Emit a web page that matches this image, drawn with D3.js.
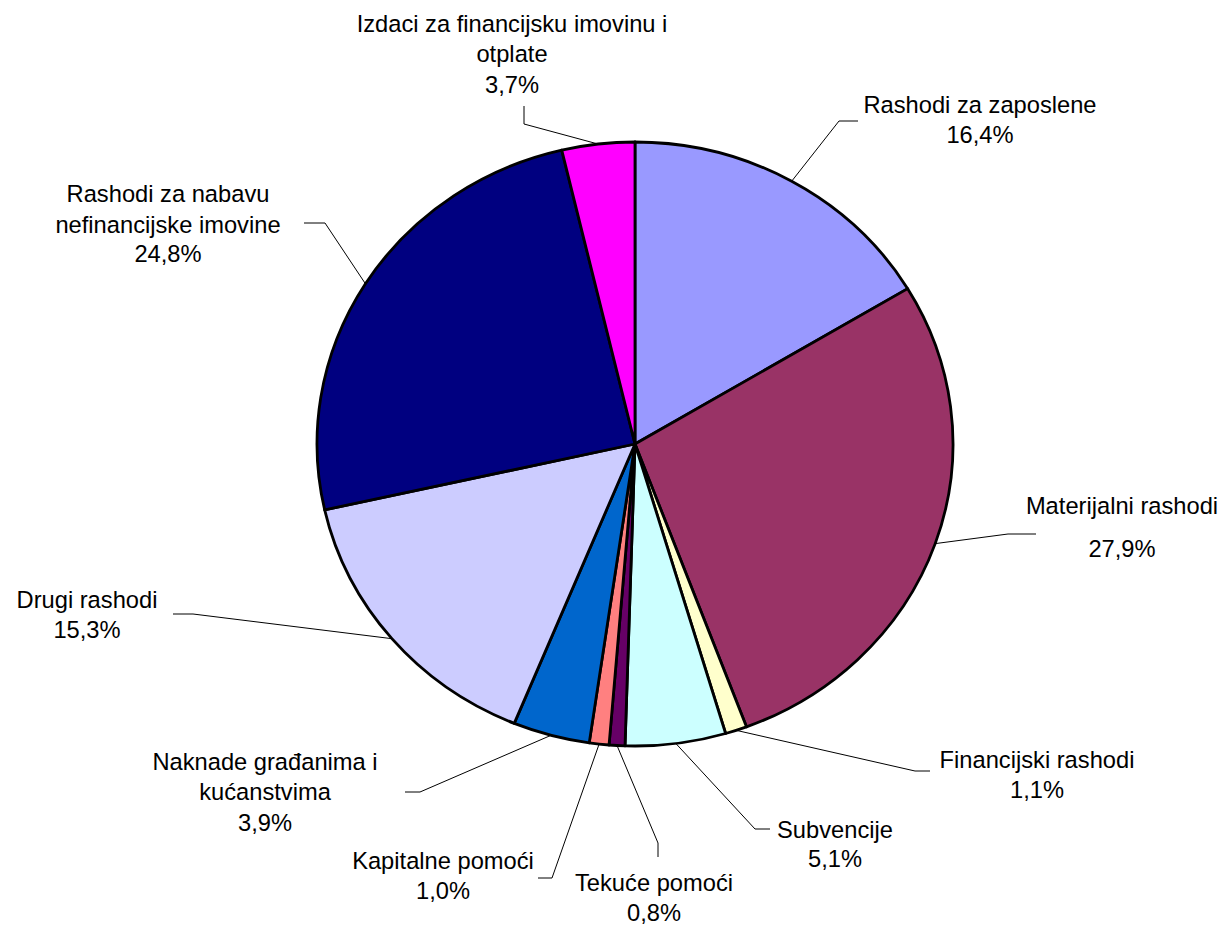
<!DOCTYPE html>
<html>
<head>
<meta charset="utf-8">
<script src="https://cdnjs.cloudflare.com/ajax/libs/d3/7.8.5/d3.min.js"></script>
<style>
  body { margin: 0; background: #fff; }
  svg text { font-family: "Liberation Sans", Arial, sans-serif; fill: #000; }
</style>
</head>
<body>
<div id="pie-chart"></div>
<script>
'use strict';

// data, clockwise from 12 o'clock
var categories = [
  "Rashodi za zaposlene",
  "Materijalni rashodi",
  "Financijski rashodi",
  "Subvencije",
  "Tekuće pomoći",
  "Kapitalne pomoći",
  "Naknade građanima i kućanstvima",
  "Drugi rashodi",
  "Rashodi za nabavu nefinancijske imovine",
  "Izdaci za financijsku imovinu i otplate"
];
var shares = [16.4, 27.9, 1.1, 5.1, 0.8, 1.0, 3.9, 15.3, 24.8, 3.7];
var colors = ["#9999FF", "#993366", "#FFFFCC", "#CCFFFF", "#660066",
              "#FF8080", "#0066CC", "#CCCCFF", "#000080", "#FF00FF"];

// how the label text wraps (same order as categories)
var labelLines = [
  ["Rashodi za zaposlene"],
  ["Materijalni rashodi"],
  ["Financijski rashodi"],
  ["Subvencije"],
  ["Tekuće pomoći"],
  ["Kapitalne pomoći"],
  ["Naknade građanima i", "kućanstvima"],
  ["Drugi rashodi"],
  ["Rashodi za nabavu", "nefinancijske imovine"],
  ["Izdaci za financijsku imovinu i", "otplate"]
];

// label layout: text centre x, baselines, leader elbow points (outer first)
var labelLayout = [
  {x: 980,  y: [113, 143],      elbow: [[858, 121], [839, 121]]},
  {x: 1122, y: [514, 557],      elbow: [[1036, 534], [1008, 534]]},
  {x: 1037, y: [768, 798],      elbow: [[930, 771], [915, 771]]},
  {x: 835,  y: [838, 867],      elbow: [[770, 829], [755, 829]]},
  {x: 654,  y: [891, 921],      elbow: [[658, 857], [658, 843]]},
  {x: 443,  y: [869, 899],      elbow: [[538, 878], [552, 878]]},
  {x: 265,  y: [770, 800, 831], elbow: [[405, 792], [420, 792]]},
  {x: 87,   y: [608, 638],      elbow: [[173, 614], [193, 614]]},
  {x: 168,  y: [202, 233, 262], elbow: [[304, 223], [325, 223]]},
  {x: 512,  y: [32, 62, 93],    elbow: [[524, 106], [524, 124]]}
];

var width = 1227,
    height = 926;
var cx = 635, cy = 444, rx = 318, ry = 302;

var fmt = d3.formatLocale({decimal: ",", thousands: ".", grouping: [3], currency: ["", ""]}).format(".1f");

var data = categories.map(function (c, i) {
  return {name: c, value: shares[i], color: colors[i], lines: labelLines[i], pos: labelLayout[i]};
});

var svg = d3.select("#pie-chart")
  .append("svg")
  .attr("width", width)
  .attr("height", height)
  .attr("viewBox", "0 0 " + width + " " + height);

var pie = d3.pie()
  .sort(null)
  .value(function (d) { return d.value; });

var arcs = pie(data);

var arc = d3.arc()
  .innerRadius(0)
  .outerRadius(rx);

// the original pie is slightly squashed vertically
var g = svg.append("g")
  .attr("transform", "translate(" + cx + "," + cy + ") scale(1," + (ry / rx) + ")");

g.selectAll("path.slice")
  .data(arcs)
  .enter()
  .append("path")
  .attr("class", "slice")
  .attr("d", arc)
  .attr("fill", function (d) { return d.data.color; })
  .attr("stroke", "#000")
  .attr("stroke-width", 2.8)
  .attr("stroke-linejoin", "round")
  .attr("vector-effect", "non-scaling-stroke");

// leader lines
function edgePoint(d) {
  var a = (d.startAngle + d.endAngle) / 2;
  return [cx + rx * Math.sin(a), cy - ry * Math.cos(a)];
}

var line = d3.line();

svg.selectAll("path.leader")
  .data(arcs)
  .enter()
  .append("path")
  .attr("class", "leader")
  .attr("fill", "none")
  .attr("stroke", "#000")
  .attr("stroke-width", 1)
  .attr("d", function (d) {
    var pts = d.data.pos.elbow.slice();
    pts.push(edgePoint(d));
    return line(pts);
  });

// labels
var labels = svg.selectAll("text.label")
  .data(arcs)
  .enter()
  .append("text")
  .attr("class", "label")
  .attr("text-anchor", "middle")
  .style("font-size", "23.7px");

labels.each(function (d) {
  var t = d3.select(this);
  var rows = d.data.lines.concat([fmt(d.data.value) + "%"]);
  rows.forEach(function (r, i) {
    t.append("tspan")
      .attr("x", d.data.pos.x)
      .attr("y", d.data.pos.y[i])
      .text(r);
  });
});
</script>
</body>
</html>
